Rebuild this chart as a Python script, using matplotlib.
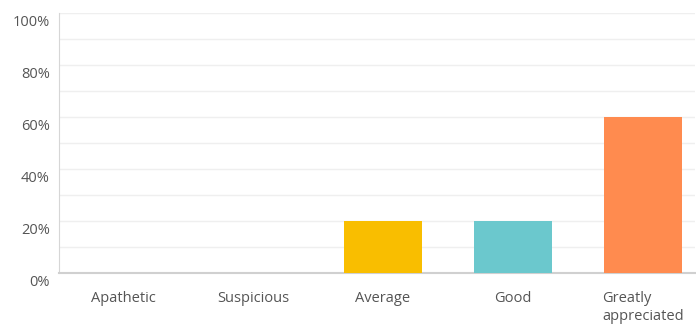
import matplotlib
matplotlib.use("Agg")
import matplotlib.pyplot as plt
from matplotlib.ticker import MultipleLocator

categories = ["Apathetic", "Suspicious", "Average", "Good", "Greatly\nappreciated"]
values = [0, 0, 20, 20, 60]
colors = ["#5BC4E8", "#A3D65C", "#F9BE00", "#6BC8CD", "#FF8B4F"]
yticks = [0, 20, 40, 60, 80, 100]

plt.rcParams["font.family"] = ["Open Sans", "DejaVu Sans"]

fig = plt.figure(figsize=(6.96, 3.27), dpi=100)
ax = fig.add_axes([59 / 696, 54 / 327, 636 / 696, 260 / 327])

x = list(range(len(categories)))
ax.bar(x, values, width=0.6, color=colors, zorder=3)

ax.set_xlim(-0.492, 4.4)
ax.set_ylim(0, 100)
ax.set_yticks(yticks)
ax.set_yticklabels([])
ax.yaxis.set_minor_locator(MultipleLocator(10))
ax.grid(axis="y", which="both", color="#efefef", linewidth=1, zorder=0)

# y labels sit just below their gridlines
for v in yticks:
    ax.annotate(f"{v}%", xy=(0, v), xycoords=ax.get_yaxis_transform(),
                xytext=(-6.5, -1.5), textcoords="offset points",
                ha="right", va="top", fontsize=10.5, color="#555555")

ax.set_xticks(x)
ax.set_xticklabels(categories, fontsize=10.5, color="#555555", linespacing=1.3)
for lbl in ax.get_xticklabels():
    lbl.set_multialignment("left")

ax.tick_params(axis="both", which="both", length=0)
ax.tick_params(axis="x", pad=13)

for side in ["top", "right"]:
    ax.spines[side].set_visible(False)
ax.spines["left"].set_color("#d6d6d6")
ax.spines["bottom"].set_color("#d0d0d0")
ax.spines["bottom"].set_linewidth(1.5)

fig.savefig("out.png", dpi=100)
